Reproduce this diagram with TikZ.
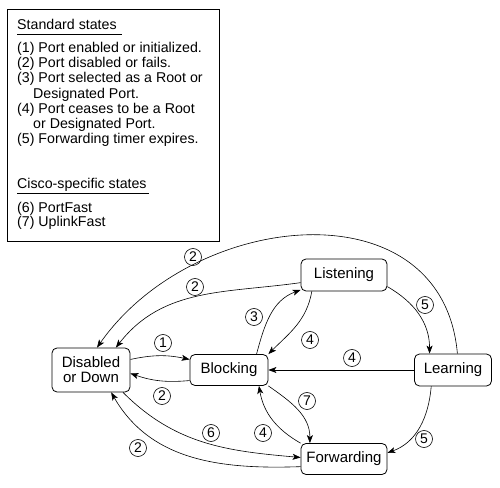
\documentclass[tikz,border=0pt]{standalone}
\usepackage{fontspec}
\setmainfont{Liberation Sans}
\usetikzlibrary{arrows.meta}

\tikzset{
  state/.style={draw, rounded corners=5pt, line width=0.8pt, minimum height=31pt,
    inner sep=2pt, align=center, font=\fontsize{15}{15}\selectfont},
  num/.style={draw, circle, line width=0.6pt, minimum size=17pt, inner sep=0pt,
    font=\fontsize{14}{14}\selectfont},
  legtext/.style={anchor=base west, inner sep=0pt, text depth=4pt,
    font=\fontsize{14.2}{15}\selectfont},
  trans/.style={->, line width=0.6pt},
}

\begin{document}
\begin{tikzpicture}[x=1pt, y=1pt, >={Stealth[length=8pt,width=6pt,inset=2pt]}]
    \useasboundingbox (0,0) rectangle (500,487);
    % legend
    \draw [line width=0.8pt] (7,246) rectangle (219,478);
    \node [legtext] (std) at (17,457) {Standard states};
    \node [legtext] (L1) at (17,434) {(1) Port enabled or initialized.};
    \node [legtext] (L2) at (17,419) {(2) Port disabled or fails.};
    \node [legtext] (L3) at (17,404) {(3) Port selected as a Root or};
    \node [legtext] (L3b) at (33,388) {Designated Port.};
    \node [legtext] (L4) at (17,373) {(4) Port ceases to be a Root};
    \node [legtext] (L4b) at (33,358) {or Designated Port.};
    \node [legtext] (L5) at (17,343) {(5) Forwarding timer expires.};
    \node [legtext] (cis) at (17,298) {Cisco-specific states};
    \node [legtext] (L6) at (17,274) {(6) PortFast};
    \node [legtext] (L7) at (17,260) {(7) UplinkFast};
    \draw (std.south west) -- ([xshift=5pt]std.south east);
    \draw (cis.south west) -- ([xshift=2pt]cis.south east);

    % states
    \node [state, minimum width=78pt, minimum height=44pt] (dis) at (91,117) {Disabled\\or Down};
    \node [state, minimum width=78pt] (blk) at (229,117) {Blocking};
    \node [state, minimum width=86pt, minimum height=32pt] (lis) at (344,212) {Listening};
    \node [state, minimum width=77pt, minimum height=32pt] (lrn) at (453,117) {Learning};
    \node [state, minimum width=86pt] (fwd) at (344,28) {Forwarding};

    % transitions
    \draw [trans] (dis.15) to [bend left=12] (blk.165);
    \draw [trans] (blk.195) to [bend left=12] (dis.-5);
    \draw [trans] (lis.190) to [out=188, in=52] (dis.42);
    \draw [trans] (lrn.75) to [out=95, in=55, looseness=1.2] (dis.75);
    \draw [trans] (dis.-35) to [out=-45, in=175] (fwd.178);
    \draw [trans] (fwd.190) to [out=182, in=-60] (dis.-48);
    \draw [trans] (blk.30) to [out=75, in=200] (lis.199);
    \draw [trans] (lis.207) to [out=-100, in=45] (blk.22);
    \draw [trans] (lis.-15) to [out=-30, in=90] (lrn.145);
    \draw [trans] (lrn.west) -- (blk.east);
    \draw [trans] (blk.-22) to [out=-35, in=90] (fwd.155);
    \draw [trans] (fwd.160) to [out=150, in=-80] (blk.-28);
    \draw [trans] (lrn.217) to [out=-95, in=20] (fwd.8);

    % labels
    \node [num] (n1) at (163,144) {1};
    \node [num] (n2a) at (162,91) {2};
    \node [num] (n2b) at (195,200) {2};
    \node [num] (n2c) at (193,230) {2};
    \node [num] (n3) at (254,170) {3};
    \node [num] (n4a) at (310,147) {4};
    \node [num] (n5a) at (425,182) {5};
    \node [num] (n4b) at (352,129) {4};
    \node [num] (n7) at (307,86) {7};
    \node [num] (n4c) at (263,54) {4};
    \node [num] (n6) at (211,54) {6};
    \node [num] (n2d) at (138,39) {2};
    \node [num] (n5b) at (424,48) {5};
\end{tikzpicture}
\end{document}
